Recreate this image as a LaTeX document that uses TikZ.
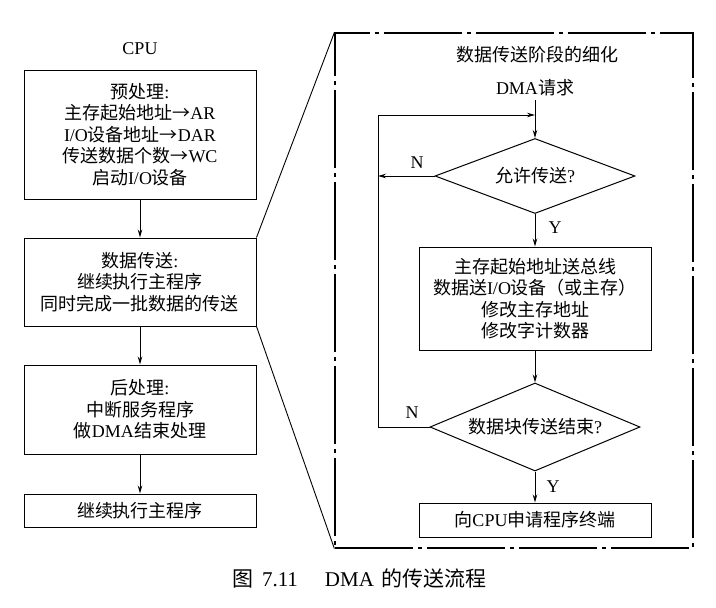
\documentclass[tikz,border=0pt]{standalone}
\usepackage{fontspec}
\setmainfont{Liberation Serif}
\newfontfamily\cjk{Noto Sans CJK SC}
\newcommand\zhs[1]{{\cjk #1}}
\newcommand\rarr{{\cjk →}}
\usetikzlibrary{shapes.geometric,arrows.meta}
\begin{document}
\begin{tikzpicture}[x=1pt,y=-1pt,
  every node/.style={font=\fontsize{18}{21.5}\selectfont},
  box/.style={draw,line width=1pt,minimum width=232pt,align=center,inner sep=0pt},
  dia/.style={draw,diamond,line width=1pt,inner sep=0pt,aspect=2.5},
  arr/.style={line width=0.9pt,-{Stealth[length=8pt,width=4.5pt]}},
  ln/.style={line width=0.9pt},
  frm/.style={draw,line width=1.2pt,dash pattern=on 78pt off 5pt on 4pt off 5pt}]
\useasboundingbox (0,0) rectangle (716,608);
% left column
\node (cpu) at (140,49) {CPU};
\node[box,minimum height=129pt] (pre) at (140,134.5)
  {\zhs{预处理}:\\ \zhs{主存起始地址}\rarr AR\\ I/O\zhs{设备地址}\rarr DAR\\ \zhs{传送数据个数}\rarr WC\\ \zhs{启动}I/O\zhs{设备}};
\node[box,minimum height=88pt] (xfer) at (140,282)
  {\zhs{数据传送}:\\ \zhs{继续执行主程序}\\ \zhs{同时完成一批数据的传送}};
\node[box,minimum height=89pt] (post) at (140,409.5)
  {\zhs{后处理}:\\ \zhs{中断服务程序}\\ \zhs{做}DMA\zhs{结束处理}};
\node[box,minimum height=33pt] (cont) at (140,510.5) {\zhs{继续执行主程序}};
\draw[arr] (pre) -- (xfer);
\draw[arr] (xfer) -- (post);
\draw[arr] (post) -- (cont);
% frame
\node[frm,minimum width=358pt,minimum height=515pt,inner sep=0pt] (frame) at (514,290.5) {};
\draw[ln] (xfer.north east) -- (frame.north west);
\draw[ln] (xfer.south east) -- (frame.south west);
% right flow
\node (title) at (537,55) {\zhs{数据传送阶段的细化}};
\node (dma) at (535,88) {DMA\zhs{请求}};
\node[dia,minimum width=200pt,minimum height=75pt] (d1) at (535,176) {\zhs{允许传送}?};
\node[box,minimum height=103pt] (op) at (535,298.5)
  {\zhs{主存起始地址送总线}\\ \zhs{数据送}I/O\zhs{设备（或主存）}\\ \zhs{修改主存地址}\\ \zhs{修改字计数器}};
\node[dia,minimum width=210pt,minimum height=88pt] (d2) at (535,427) {\zhs{数据块传送结束}?};
\node[box,minimum height=34pt] (req) at (535,520) {\zhs{向}CPU\zhs{申请程序终端}};
\coordinate (loopL) at (378,115);
\coordinate (merge) at (535,115);
\draw[arr] (dma.south) -- (d1.north);
\draw[arr] (d1.south) -- (op.north);
\draw[arr] (op.south) -- (d2.north);
\draw[arr] (d2.south) -- (req.north);
\draw[arr] (d1.west) -- (d1.west -| loopL);
\draw[arr] (d2.west) -| (loopL) -- (merge);
\node (n1) at (417,163) {N};
\node (y1) at (555,228) {Y};
\node (n2) at (412,413) {N};
\node (y2) at (553,487) {Y};
% caption
\node[font=\fontsize{21}{24}\selectfont] (cap) at (359.5,578)
  {\zhs{图}\hspace{9pt}7.11\hspace{27pt}DMA\hspace{8pt}\zhs{的传送流程}};
\end{tikzpicture}
\end{document}
